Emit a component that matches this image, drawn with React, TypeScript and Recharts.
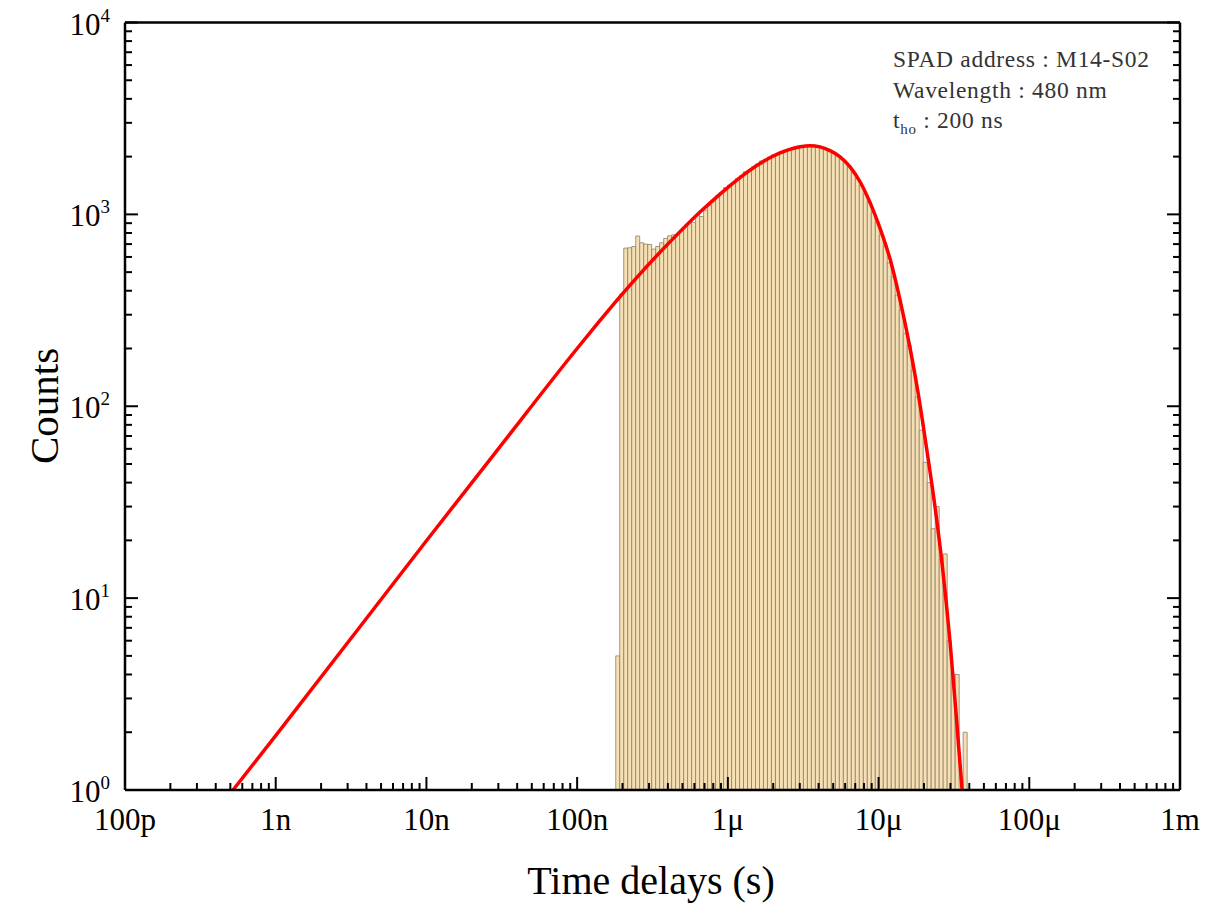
import { ComposedChart, XAxis, YAxis, Line, ReferenceArea } from "recharts";

const FONT = "'Liberation Serif', 'Times New Roman', serif";

// Histogram of time delays: log-spaced bins starting at binStart, each edge binRatio times the previous
const binStart = 1.8034e-7;
const binRatio = 1.06291;
const binCounts = [
  5, 384, 667, 670, 680, 771, 711, 700, 697, 659,
  680, 711, 750, 773, 782, 785, 818, 861, 908, 908,
  1000, 975, 1052, 1110, 1163, 1250, 1300, 1380, 1420, 1460,
  1540, 1590, 1667, 1700, 1770, 1830, 1900, 1940, 1990, 2040,
  2080, 2130, 2160, 2200, 2220, 2250, 2270, 2280, 2275, 2260,
  2250, 2230, 2180, 2140, 2080, 2020, 1950, 1860, 1770, 1650,
  1540, 1410, 1280, 1160, 1020, 912, 780, 680, 560, 473,
  380, 317, 240, 208, 154, 112, 75, 51, 40, 23,
  30, 16, 17, 6, 4, 4, 1, 2,
];

// Fitted curve
const fitTimes = [
  5.21e-10, 1e-9, 1e-8, 3e-8, 1e-7, 1.419e-7, 1.926e-7, 2.615e-7, 3.548e-7, 4.817e-7,
  6.537e-7, 8.874e-7, 1.2045e-6, 1.635e-6, 2.22e-6, 3.013e-6, 3.511e-6, 4.09e-6, 4.766e-6, 5.552e-6,
  6.47e-6, 7.537e-6, 8.784e-6, 1.0233e-5, 1.1921e-5, 1.389e-5, 1.618e-5, 1.829e-5, 2.066e-5, 2.336e-5,
  2.639e-5, 2.981e-5, 3.268e-5, 3.582e-5,
];
const fitCounts = [
  1, 1.92, 19.9, 60, 200, 280, 373, 490, 635, 813,
  1028, 1276, 1556, 1841, 2089, 2249, 2280, 2249, 2148, 1995,
  1770, 1479, 1151, 845, 585, 357, 201, 117.5, 63, 32.4,
  15.1, 5.9, 2.5, 1,
];

const xMajor = [1e-10, 1e-9, 1e-8, 1e-7, 1e-6, 1e-5, 1e-4, 1e-3];
const xMajorLabels = ["100p", "1n", "10n", "100n", "1\u03bc", "10\u03bc", "100\u03bc", "1m"];
const yMajor = [1, 10, 100, 1000, 10000];
const yMajorExps = ["0", "1", "2", "3", "4"];

const withMinors = (majors: number[]) => {
  const out: number[] = [];
  majors.forEach((m, i) => {
    if (i === majors.length - 1) {
      out.push(m);
      return;
    }
    for (let k = 1; k <= 9; k++) out.push(m * k);
  });
  return out;
};

const xTicks = withMinors(xMajor);
const yTicks = withMinors(yMajor);

const fitData = fitTimes.map((t, i) => ({ t, count: fitCounts[i] }));
const bins = binCounts.map((count, i) => ({
  x1: binStart * Math.pow(binRatio, i),
  x2: binStart * Math.pow(binRatio, i + 1),
  count,
}));

const majorIndex = (v: number, majors: number[]) =>
  majors.findIndex((m) => Math.abs(v / m - 1) < 1e-6);

const MAJOR = 13;
const MINOR = 7;

const BottomTick = (props: any) => {
  const { x, y, payload } = props;
  const idx = majorIndex(payload.value, xMajor);
  return (
    <g>
      <line x1={x} y1={y} x2={x} y2={y - (idx >= 0 ? MAJOR : MINOR)} stroke="#000" strokeWidth={2} />
      {idx >= 0 && (
        <text x={x} y={y + 40} textAnchor="middle" fontSize={31} fontFamily={FONT} fill="#000">
          {xMajorLabels[idx]}
        </text>
      )}
    </g>
  );
};

const TopTick = (props: any) => {
  const { x, y, payload } = props;
  const idx = majorIndex(payload.value, xMajor);
  return <line x1={x} y1={y} x2={x} y2={y + (idx >= 0 ? MAJOR : MINOR)} stroke="#000" strokeWidth={2} />;
};

const LeftTick = (props: any) => {
  const { x, y, payload } = props;
  const idx = majorIndex(payload.value, yMajor);
  return (
    <g>
      <line x1={x} y1={y} x2={x + (idx >= 0 ? MAJOR : MINOR)} y2={y} stroke="#000" strokeWidth={2} />
      {idx >= 0 && (
        <text x={x - 15} y={y + 12} textAnchor="end" fontSize={31} fontFamily={FONT} fill="#000">
          10
          <tspan fontSize={19} dy={-13}>
            {yMajorExps[idx]}
          </tspan>
        </text>
      )}
    </g>
  );
};

const RightTick = (props: any) => {
  const { x, y, payload } = props;
  const idx = majorIndex(payload.value, yMajor);
  return <line x1={x} y1={y} x2={x - (idx >= 0 ? MAJOR : MINOR)} y2={y} stroke="#000" strokeWidth={2} />;
};

const frame = { stroke: "#000", strokeWidth: 2.5 };

export default function App() {
  return (
    <div style={{ position: "absolute", left: 0, top: 0, width: 1230, height: 908, background: "#fff" }}>
      <ComposedChart width={1230} height={908} margin={{ top: 12.5, right: 40, bottom: 58, left: 25 }}>
        <XAxis
          dataKey="t"
          type="number"
          scale="log"
          domain={[1e-10, 1e-3]}
          allowDataOverflow
          ticks={xTicks}
          interval={0}
          tick={<BottomTick />}
          tickSize={0}
          tickMargin={0}
          tickLine={false}
          axisLine={frame}
          height={60}
        />
        <XAxis
          xAxisId="top"
          orientation="top"
          type="number"
          scale="log"
          domain={[1e-10, 1e-3]}
          allowDataOverflow
          ticks={xTicks}
          interval={0}
          tick={<TopTick />}
          tickSize={0}
          tickMargin={0}
          tickLine={false}
          axisLine={frame}
          height={10}
        />
        <YAxis
          type="number"
          scale="log"
          domain={[1, 10000]}
          allowDataOverflow
          ticks={yTicks}
          interval={0}
          tick={<LeftTick />}
          tickSize={0}
          tickMargin={0}
          tickLine={false}
          axisLine={frame}
          width={100}
        />
        <YAxis
          yAxisId="right"
          orientation="right"
          type="number"
          scale="log"
          domain={[1, 10000]}
          allowDataOverflow
          ticks={yTicks}
          interval={0}
          tick={<RightTick />}
          tickSize={0}
          tickMargin={0}
          tickLine={false}
          axisLine={frame}
          width={10}
        />
        {bins
          .filter((b) => b.count > 1)
          .map((b, i) => (
            <ReferenceArea
              key={i}
              x1={b.x1}
              x2={b.x2}
              y1={1}
              y2={b.count}
              fill="#F5DFB3"
              fillOpacity={1}
              stroke="#8a7f70"
              strokeWidth={0.8}
              ifOverflow="hidden"
            />
          ))}
        <Line
          data={fitData}
          dataKey="count"
          type="monotone"
          stroke="#ff0000"
          strokeWidth={3.5}
          dot={false}
          isAnimationActive={false}
        />
      </ComposedChart>
      <svg
        width={1230}
        height={908}
        style={{ position: "absolute", left: 0, top: 0, pointerEvents: "none" }}
        fontFamily={FONT}
      >
        <text x={651} y={894} textAnchor="middle" fontSize={40} fill="#000">
          Time delays (s)
        </text>
        <text transform="translate(58,406) rotate(-90)" textAnchor="middle" fontSize={41} fill="#000">
          Counts
        </text>
        <g fontSize={23.5} fill="#333" letterSpacing={0.7}>
          <text x={893} y={67}>SPAD address : M14-S02</text>
          <text x={893} y={98}>Wavelength : 480 nm</text>
          <text x={893} y={128}>
            t<tspan fontSize={15} dy={6}>ho</tspan>
            <tspan dy={-6}> : 200 ns</tspan>
          </text>
        </g>
      </svg>
    </div>
  );
}
